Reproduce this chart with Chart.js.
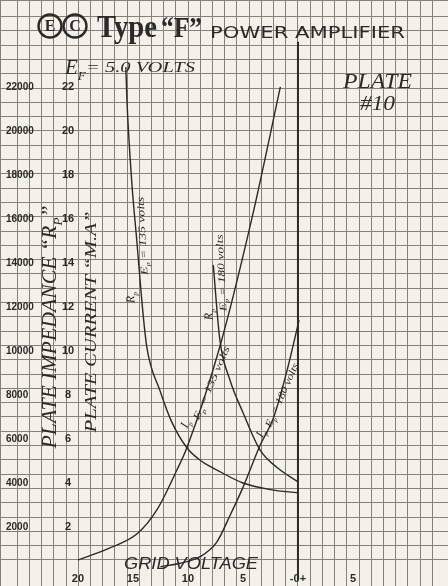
<!DOCTYPE html>
<html lang="en">
<head>
<meta charset="UTF-8">
<title>E.C.Co. Type "F" Power Amplifier</title>
<script src="https://cdn.jsdelivr.net/npm/chart.js"></script>
<style>
  html, body { margin: 0; padding: 0; background: #f4f1e8; }
  #wrap { width: 448px; height: 586px; }
</style>
</head>
<body>
<div id="wrap"><canvas id="chart" width="448" height="586"></canvas></div>
<script>
// values; grid volts are negative to the left of zero
const rpVolts135 = [-15.65, -15.55, -15.1, -14.65, -14.2, -13.75, -12.55, -11.5, -10.1, -8.8, -7.4, -5.0, -2.5, 0];
const rpOhms135  = [22900, 21400, 17600, 15000, 12300, 10200, 8200, 6800, 5600, 5000, 4600, 4000, 3700, 3550];
const rpVolts180 = [-7.7, -7.1, -6.2, -5.0, -3.45, -1.9, 0];
const rpOhms180  = [13900, 10500, 8700, 7200, 5500, 4700, 4050];
const ipVolts135 = [-20, -17.1, -14.6, -12.8, -11.0, -10.1, -7.1, -4.2, -1.6];
const ipMa135    = [0.5, 1.05, 1.7, 2.8, 4.6, 5.6, 10.2, 16.0, 22.0];
const ipVolts180 = [-12.5, -10.7, -8.9, -7.4, -6.2, -5.0, -3.45, -2.2, -1.0, 0.1];
const ipMa180    = [0.2, 0.35, 0.65, 1.3, 2.5, 3.8, 5.7, 7.0, 9.1, 11.4];
const zeroVolts  = [0, 0];
const zeroMa     = [-0.4, 24.05];

const xTicks    = [-20, -15, -10, -5, 0, 5];
const xTickText = ['20', '15', '10', '5', '-0+', '5'];
const maTicks   = [2, 4, 6, 8, 10, 12, 14, 16, 18, 20, 22];
const ohmTicks  = [2000, 4000, 6000, 8000, 10000, 12000, 14000, 16000, 18000, 20000, 22000];

const INK = '#2b2a28';
const PAPER = '#f4f1e8';
const pts = (xs, ys) => xs.map((x, i) => ({ x: x, y: ys[i] }));
// axes sit on the paper itself, so none of them may take room from the plot
const noSize = s => {
  if (s.isHorizontal()) s.height = 0; else s.width = 0;
  s.paddingTop = s.paddingBottom = s.paddingLeft = s.paddingRight = 0;
};

// draws a run of text pieces, [text, subscript?], centred or from the left
function rich(ctx, segs, x, y, size, o) {
  o = o || {};
  ctx.save();
  ctx.translate(x, y);
  if (o.rot) ctx.rotate(o.rot * Math.PI / 180);
  const fam = o.family || 'Liberation Serif';
  const font = sub => (o.style || 'italic') + ' ' + (o.weight || 'normal') + ' ' +
    (sub ? Math.round(size * 0.62) : size) + 'px "' + fam + '"';
  let total = 0;
  const ws = segs.map(([t, sub]) => { ctx.font = font(sub); const w = ctx.measureText(t).width; total += w; return w; });
  if (o.width) ctx.scale(o.width / total, 1);
  let cx = o.left ? 0 : -total / 2;
  const cy = o.baseline ? 0 : size * 0.35;
  ctx.fillStyle = o.color || INK;
  ctx.textBaseline = 'alphabetic';
  segs.forEach(([t, sub], i) => {
    ctx.font = font(sub);
    ctx.fillText(t, cx, cy + (sub ? size * 0.28 : 0));
    cx += ws[i];
  });
  ctx.restore();
}

const paper = {
  id: 'paper',
  beforeDraw(chart) {
    const c = chart.ctx;
    c.save(); c.fillStyle = PAPER; c.fillRect(0, 0, chart.width, chart.height); c.restore();
  },
  afterDraw(chart) {
    const c = chart.ctx, sx = chart.scales.x, sy = chart.scales.y;
    const at = (v, i) => [sx.getPixelForValue(v), sy.getPixelForValue(i)];

    // maker's mark
    c.save();
    c.strokeStyle = INK; c.lineWidth = 2.4;
    [[50, 26, 'E'], [75, 26, 'C']].forEach(([x, y, ch]) => {
      c.beginPath(); c.arc(x, y, 11.5, 0, Math.PI * 2); c.stroke();
      c.font = 'bold 16px "Liberation Serif"'; c.fillStyle = INK;
      c.textAlign = 'center'; c.textBaseline = 'middle';
      c.fillText(ch, x, y + 1);
    });
    c.restore();
    rich(c, [['Type']], 97, 37, 32, { style: 'normal', weight: 'bold', width: 60, left: true, baseline: true });
    rich(c, [['\u201cF\u201d']], 161, 37, 30, { style: 'normal', weight: 'bold', width: 41, left: true, baseline: true });
    rich(c, [['POWER AMPLIFIER']], 210, 38, 15, { style: 'normal', family: 'DejaVu Sans', width: 195, left: true, baseline: true });

    rich(c, [['E'], ['F', true]], 65, 74, 21, { left: true, baseline: true });
    rich(c, [['= 5.0 VOLTS']], 86, 72, 15, { width: 109, left: true, baseline: true });
    rich(c, [['PLATE']], 343, 88, 22, { width: 69, left: true, baseline: true });
    rich(c, [['#10']], 360, 110, 20, { width: 35, left: true, baseline: true });

    rich(c, [['PLATE IMPEDANCE \u201cR'], ['P', true], ['\u201d']], 49, 327, 20, { rot: -90, width: 243 });
    rich(c, [['PLATE CURRENT \u201cM.A\u201d']], 90, 322, 17, { rot: -90, width: 221 });
    rich(c, [['GRID VOLTAGE']], 191, 563, 16, { family: 'Liberation Sans', width: 134 });

    // curve names
    const ep = v => [['E'], ['p', true], [' = ' + v + ' volts']];
    rich(c, [['R'], ['p', true]], ...at(-15.27, 12.41), 12, { rot: -93 });
    rich(c, ep(135), ...at(-14.18, 15.23), 10, { rot: -93, width: 78 });
    rich(c, [['R'], ['p', true]], ...at(-8.18, 11.64), 12, { rot: -93 });
    rich(c, ep(180), ...at(-7.0, 13.55), 10, { rot: -93, width: 77 });
    rich(c, [['I'], ['p', true]], ...at(-10.3, 6.7), 12, { rot: -66 });
    rich(c, ep(135), ...at(-7.9, 8.55), 10, { rot: -67, width: 79 });
    rich(c, [['I'], ['p', true]], ...at(-3.45, 6.27), 12, { rot: -64 });
    rich(c, ep(180), ...at(-1.5, 8.0), 10, { rot: -66, width: 69 });
  }
};

const curve = (xs, ys, axis) => ({
  data: pts(xs, ys), xAxisID: 'x', yAxisID: axis, borderColor: INK, borderWidth: 1.4,
  pointRadius: 0, cubicInterpolationMode: 'monotone', fill: false
});

new Chart(document.getElementById('chart'), {
  type: 'line',
  data: {
    datasets: [
      curve(rpVolts135, rpOhms135, 'yr'),
      curve(rpVolts180, rpOhms180, 'yr'),
      curve(ipVolts135, ipMa135, 'y'),
      curve(ipVolts180, ipMa180, 'y'),
      Object.assign(curve(zeroVolts, zeroMa, 'y'), { borderWidth: 2 })
    ]
  },
  options: {
    responsive: false,
    animation: false,
    events: [],
    layout: { padding: 0 },
    plugins: { legend: { display: false }, tooltip: { enabled: false } },
    scales: {
      x: {
        type: 'linear', position: { y: 0 }, min: -27.09, max: 13.64,
        grid: { display: false, drawTicks: false }, border: { display: false },
        afterBuildTicks: s => { s.ticks = xTicks.map(v => ({ value: v })); },
        ticks: {
          autoSkip: false, maxRotation: 0, padding: 1, color: INK,
          font: { family: 'Liberation Sans', weight: 'bold', size: 11 },
          callback: (v, i) => xTickText[i]
        },
        afterFit: noSize
      },
      y: {
        type: 'linear', position: 'left', min: -0.682, max: 25.95,
        grid: { display: false, drawTicks: false }, border: { display: false },
        afterBuildTicks: s => { s.ticks = maTicks.map(v => ({ value: v })); },
        ticks: {
          mirror: true, crossAlign: 'center', padding: 62, autoSkip: false, color: INK,
          font: { family: 'Liberation Sans', weight: 'bold', size: 11 }
        },
        afterFit: noSize
      },
      yr: {
        type: 'linear', position: 'left', min: -682, max: 25950,
        grid: { display: false, drawTicks: false }, border: { display: false },
        afterBuildTicks: s => { s.ticks = ohmTicks.map(v => ({ value: v })); },
        ticks: {
          mirror: true, padding: 6, autoSkip: false, color: INK,
          font: { family: 'Liberation Sans', weight: 'bold', size: 10 },
          callback: v => String(v)
        },
        afterFit: noSize
      },
      // graph paper ruling, in squares
      gx: {
        type: 'linear', position: 'bottom', min: -24.426, max: 12.295,
        ticks: { display: false, stepSize: 1 },
        grid: { color: '#85827b', lineWidth: 1, drawTicks: false },
        border: { display: false }, afterFit: noSize
      },
      gy: {
        type: 'linear', position: 'left', reverse: true, min: -6.154, max: 34.825,
        ticks: { display: false, stepSize: 1 },
        grid: { color: '#85827b', lineWidth: 1, drawTicks: false },
        border: { display: false }, afterFit: noSize
      }
    }
  },
  plugins: [paper]
});
</script>
</body>
</html>
